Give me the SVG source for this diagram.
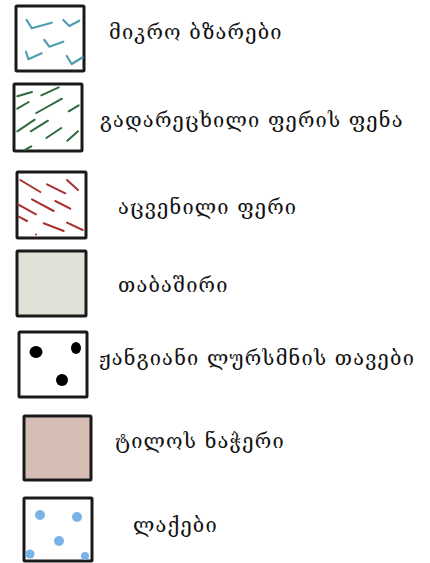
<svg xmlns="http://www.w3.org/2000/svg" width="430" height="563" viewBox="0 0 430 563">
<style>
.box{stroke:#1a1a1a;stroke-width:3;}
.lbl{font-family:"DejaVu Serif","DejaVu Sans",serif;font-size:20px;letter-spacing:1.2px;fill:#111;}
.teal{fill:none;stroke:#4f9db2;stroke-width:2.2;stroke-linecap:round;stroke-linejoin:round;}
.green{stroke:#2f6a3e;stroke-width:2;stroke-linecap:round;}
.red{stroke:#a83030;stroke-width:2;stroke-linecap:round;}
</style>
<rect width="430" height="563" fill="#fff"/>
<g id="micro-cracks">
<rect class="box" x="16" y="6" width="68" height="65" rx="1" fill="#fff"/>
<polyline class="teal" points="26.7,20 31.7,28.3 51.7,22.7"/>
<polyline class="teal" points="63.3,20 69.3,26 79.3,20.7"/>
<polyline class="teal" points="44.3,40 49.3,46.7 63.3,41.7"/>
<polyline class="teal" points="26,51.7 28.3,59.3 41.7,53.3"/>
<polyline class="teal" points="66.7,56 71.7,64 82.7,57.3"/>
<text class="lbl" x="109" y="39">მიკრო ბზარები</text>
</g>
<g id="washed-paint">
<rect class="box" x="14" y="84" width="68" height="67" rx="1" fill="#fff"/>
<line class="green" x1="17.3" y1="96.3" x2="32" y2="92"/>
<line class="green" x1="41.3" y1="95.3" x2="58.7" y2="87.3"/>
<line class="green" x1="17.3" y1="108.7" x2="28.7" y2="102"/>
<line class="green" x1="36.3" y1="113" x2="62" y2="98.7"/>
<line class="green" x1="68.7" y1="111.3" x2="78.7" y2="105.3"/>
<line class="green" x1="17.3" y1="131.3" x2="34.7" y2="119.7"/>
<line class="green" x1="30.7" y1="131.3" x2="48" y2="120.7"/>
<line class="green" x1="46.3" y1="138" x2="61.3" y2="128"/>
<line class="green" x1="67.3" y1="140.7" x2="78" y2="131.3"/>
<line class="green" x1="25.3" y1="149.7" x2="31.3" y2="146.3"/>
<text class="lbl" x="100" y="127">გადარეცხილი ფერის ფენა</text>
</g>
<g id="flaked-paint">
<rect class="box" x="17" y="172" width="69" height="66" rx="1" fill="#fff"/>
<line class="red" x1="20.3" y1="180" x2="40.3" y2="192"/>
<line class="red" x1="47" y1="184.3" x2="65.3" y2="193.3"/>
<line class="red" x1="67" y1="180" x2="78" y2="190"/>
<line class="red" x1="18" y1="204.3" x2="36" y2="214.3"/>
<line class="red" x1="32" y1="199.3" x2="53.7" y2="211"/>
<line class="red" x1="55.3" y1="201" x2="70.3" y2="208.7"/>
<line class="red" x1="18.7" y1="216.7" x2="27" y2="221"/>
<line class="red" x1="43.7" y1="223.3" x2="63.7" y2="231"/>
<line class="red" x1="67" y1="222.7" x2="82.7" y2="230"/>
<circle cx="36" cy="234.5" r="1" fill="#a83030"/>
<text class="lbl" x="118" y="214">აცვენილი ფერი</text>
</g>
<g id="gypsum">
<rect class="box" x="17" y="251" width="69" height="65" rx="1" fill="#dfe0d6"/>
<text class="lbl" x="118" y="292">თაბაშირი</text>
</g>
<g id="rusty-nails">
<rect class="box" x="19" y="332" width="68" height="65" rx="1" fill="#fff"/>
<ellipse cx="36" cy="352" rx="6.5" ry="6" fill="#000"/>
<ellipse cx="76" cy="348" rx="5" ry="6" fill="#000"/>
<ellipse cx="62" cy="380" rx="6" ry="6" fill="#000"/>
<text class="lbl" x="99" y="365">ჟანგიანი ლურსმნის თავები</text>
</g>
<g id="canvas-patch">
<rect class="box" x="24" y="416" width="67" height="64" rx="1" fill="#d6bdb4"/>
<text class="lbl" x="115" y="448">ტილოს ნაჭერი</text>
</g>
<g id="stains">
<rect class="box" x="24" y="498" width="68" height="63" rx="1" fill="#fff"/>
<circle cx="40" cy="515" r="5" fill="#7ab3e6"/>
<circle cx="77" cy="517" r="5" fill="#7ab3e6"/>
<circle cx="59" cy="541" r="5" fill="#7ab3e6"/>
<circle cx="30" cy="554" r="4.5" fill="#7ab3e6"/>
<circle cx="85" cy="556" r="4" fill="#7ab3e6"/>
<text class="lbl" x="133" y="532">ლაქები</text>
</g>
<g id="connectors"/>
</svg>
